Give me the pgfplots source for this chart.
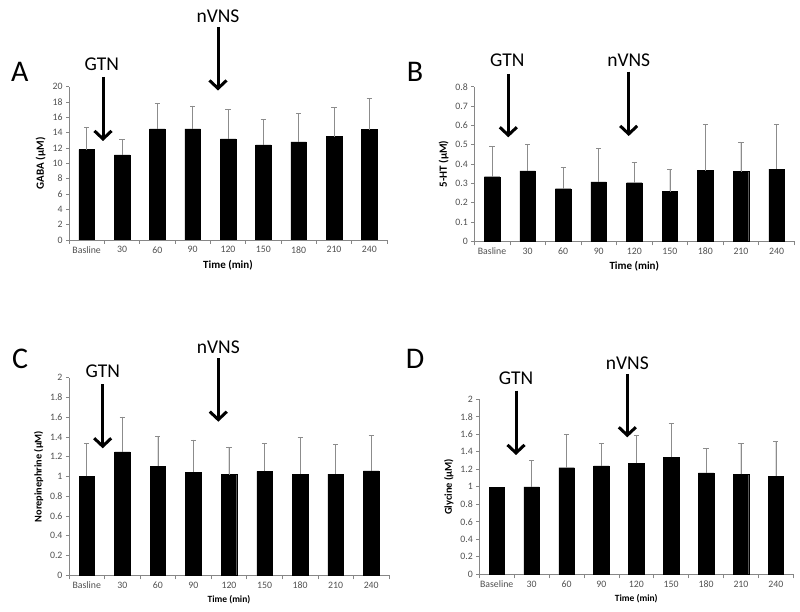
\documentclass[border=0pt]{standalone}
\usepackage{pgfplots}
\pgfplotsset{compat=1.18}
\usepackage{pgfplotstable}
\usepackage{fontspec}
\setmainfont{Carlito}
\usetikzlibrary{arrows.meta}
\definecolor{axisgray}{HTML}{868686}
\definecolor{labelgray}{HTML}{505050}
\definecolor{errgray}{HTML}{8C8C8C}

\pgfplotstableread{
x y e
0 11.8 2.9
1 11.1 2.0
2 14.5 3.3
3 14.5 3.0
4 13.2 3.8
5 12.4 3.3
6 12.8 3.7
7 13.5 3.8
8 14.4 4.1
}\gaba
\pgfplotstableread{
x y e
0 0.334 0.156
1 0.364 0.138
2 0.272 0.111
3 0.308 0.172
4 0.303 0.106
5 0.257 0.116
6 0.366 0.237
7 0.361 0.153
8 0.373 0.230
}\sht
\pgfplotstableread{
x y e
0 1.000 0.337
1 1.248 0.355
2 1.105 0.302
3 1.045 0.325
4 1.020 0.280
5 1.052 0.282
6 1.025 0.370
7 1.025 0.298
8 1.058 0.360
}\nore
\pgfplotstableread{
x y
0 1.000
}\glybase
\pgfplotstableread{
x y e
1 1.000 0.298
2 1.218 0.385
3 1.240 0.256
4 1.267 0.317
5 1.336 0.389
6 1.160 0.283
7 1.141 0.355
8 1.122 0.393
}\gly

\pgfplotsset{
  panel/.style={
    scale only axis, ybar, bar width=15.5pt,
    xmin=-0.5, xmax=8.5, ymin=0,
    axis lines*=left,
    axis line style={draw=axisgray, line width=0.7pt},
    xtick={0,...,8},
    major x tick style={draw=none},
    minor xtick={-0.5,0.5,1.5,2.5,3.5,4.5,5.5,6.5,7.5,8.5},
    minor x tick style={draw=axisgray, line width=0.6pt},
    y tick style={draw=axisgray, line width=0.6pt},
    tick align=outside, major tick length=3pt, minor tick length=4pt,
    ticklabel style={font=\fontsize{9.8}{10}\selectfont, text=labelgray},
    /pgf/number format/assume math mode=true,
    /pgf/number format/fixed,
    xlabel={Time (min)},
    label style={font=\bfseries\fontsize{11}{12}\selectfont},
    error bars/y dir=plus, error bars/y explicit,
    error bars/error bar style={draw=errgray, line width=0.6pt},
    error bars/error mark options={rotate=90, mark size=2.6pt, draw=errgray, line width=0.6pt},
  },
  barstyle/.style={fill=black, draw=black, bar shift=0pt},
}
\tikzset{
  arr/.style={line width=3pt, -{Straight Barb[length=8pt,width=17pt]}},
  ann/.style={font=\fontsize{19.5}{20}\selectfont, anchor=base},
  big/.style={font=\fontsize{30}{31}\selectfont, anchor=base},
}

\begin{document}
\begin{tikzpicture}
\useasboundingbox (0,0) rectangle (800pt,612pt);

% Panel A
\begin{axis}[panel, at={(69pt,372pt)}, anchor=south west,
  width=318pt, height=153.3pt, ymax=20, ytick={0,2,...,20},
  xticklabels={Basline,30,60,90,120,150,180,210,240},
  ylabel={GABA (µM)}]
\addplot[barstyle] table[x=x, y=y, y error=e] {\gaba};
\end{axis}
\node[big] at (19.7pt,530.3pt) {A};
\node[ann] at (101.7pt,541pt) {GTN};
\draw[arr] (103pt,535pt) -- (103pt,471pt);
\node[ann] at (218pt,589.3pt) {nVNS};
\draw[arr] (218pt,585pt) -- (218pt,521.5pt);

% Panel B
\begin{axis}[panel, at={(474.3pt,370.7pt)}, anchor=south west,
  width=320pt, height=154.6pt, ymax=0.8,
  ytick={0,0.1,0.2,0.3,0.4,0.5,0.6,0.7,0.8},
  xticklabels={Basline,30,60,90,120,150,180,210,240},
  ylabel={5-HT (µM)}]
\addplot[barstyle] table[x=x, y=y, y error=e] {\sht};
\end{axis}
\node[big] at (415pt,530.3pt) {B};
\node[ann] at (507.3pt,545.3pt) {GTN};
\draw[arr] (508.3pt,538pt) -- (508.3pt,474.7pt);
\node[ann] at (628.7pt,545.3pt) {nVNS};
\draw[arr] (628.7pt,540.3pt) -- (628.7pt,476pt);

% Panel C
\begin{axis}[panel, at={(69pt,36.7pt)}, anchor=south west,
  width=320pt, height=197.6pt, ymax=2,
  ytick={0,0.2,0.4,0.6,0.8,1,1.2,1.4,1.6,1.8,2},
  xticklabels={Basline,30,60,90,120,150,180,210,240},
  xlabel style={font=\bfseries\fontsize{9.5}{10}\selectfont},
  ylabel style={font=\bfseries\fontsize{10.3}{11}\selectfont},
  ylabel={Norepinephrine (µM)}]
\addplot[barstyle] table[x=x, y=y, y error=e] {\nore};
\end{axis}
\node[big] at (20pt,243.7pt) {C};
\node[ann] at (102.7pt,234.3pt) {GTN};
\draw[arr] (102.7pt,227.7pt) -- (102.7pt,163.7pt);
\node[ann] at (218.3pt,258.7pt) {nVNS};
\draw[arr] (218.3pt,253.7pt) -- (218.3pt,190.3pt);

% Panel D
\begin{axis}[panel, at={(479.3pt,37.7pt)}, anchor=south west,
  width=314pt, height=175pt, ymax=2,
  ytick={0,0.2,0.4,0.6,0.8,1,1.2,1.4,1.6,1.8,2},
  xticklabels={Baseline,30,60,90,120,150,180,210,240},
  xlabel style={font=\bfseries\fontsize{9.5}{10}\selectfont},
  ylabel style={font=\bfseries\fontsize{10.5}{11}\selectfont},
  ylabel={Glycine (µM)}]
\addplot[barstyle, error bars/y dir=none] table[x=x, y=y] {\glybase};
\addplot[barstyle] table[x=x, y=y, y error=e] {\gly};
\end{axis}
\node[big] at (415pt,243.7pt) {D};
\node[ann] at (516pt,227pt) {GTN};
\draw[arr] (516pt,221.3pt) -- (516pt,157pt);
\node[ann] at (627.3pt,242pt) {nVNS};
\draw[arr] (627.3pt,238pt) -- (627.3pt,174.7pt);
\end{tikzpicture}
\end{document}
